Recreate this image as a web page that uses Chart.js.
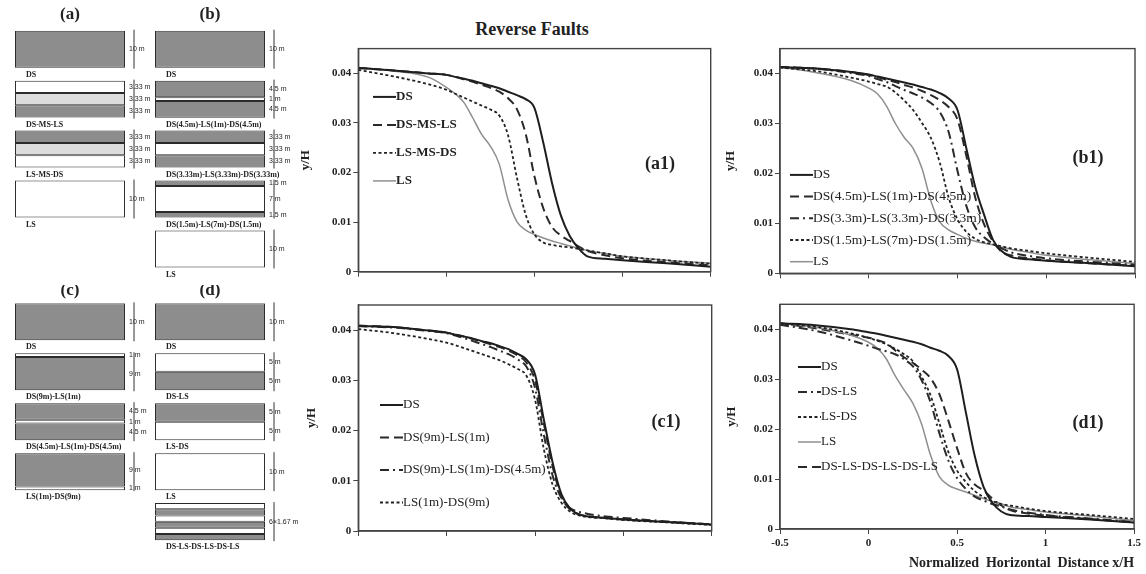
<!DOCTYPE html>
<html lang="en">
<head>
  <meta charset="UTF-8" />
  <title>Reverse Faults</title>
  <script src="https://cdn.jsdelivr.net/npm/chart.js"></script>
  <style>
    body { margin: 0; width: 1146px; height: 574px; background: #fff; position: relative; overflow: hidden; }
    .caixa { position: absolute; }
    #titulo { position: absolute; left: 452px; top: 19px; width: 160px; text-align: center;
              font: bold 18px 'Liberation Serif', serif; line-height: 20px; color: #222; }
  </style>
</head>
<body>
  <div class="caixa" style="left:0;top:0;width:302px;height:285px"><canvas id="perfisAB"></canvas></div>
  <div class="caixa" style="left:0;top:285px;width:302px;height:289px"><canvas id="perfisCD"></canvas></div>
  <div id="titulo">Reverse Faults</div>
  <div class="caixa" style="left:294px;top:40px;width:424px;height:250px"><canvas id="g_a1"></canvas></div>
  <div class="caixa" style="left:719px;top:40px;width:425px;height:250px"><canvas id="g_b1"></canvas></div>
  <div class="caixa" style="left:300px;top:295px;width:420px;height:250px"><canvas id="g_c1"></canvas></div>
  <div class="caixa" style="left:720px;top:295px;width:424px;height:279px"><canvas id="g_d1"></canvas></div>

  <script>
    // ---- perfis de solo (esquemas) ----
    const colunasAB = ['(a)', '(b)'];
    const colunasCD = ['(c)', '(d)'];

    const perfisA = ['DS', 'DS-MS-LS', 'LS-MS-DS', 'LS'];
    const camadasA = [['DS'], ['LS', 'MS', 'DS'], ['DS', 'MS', 'LS'], ['LS']];
    const espessurasA = [[10], [3.33, 3.33, 3.33], [3.33, 3.33, 3.33], [10]];
    const cotasA = [['10 m'], ['3.33 m', '3.33 m', '3.33 m'], ['3.33 m', '3.33 m', '3.33 m'], ['10 m']];

    const perfisB = ['DS', 'DS(4.5m)-LS(1m)-DS(4.5m)', 'DS(3.33m)-LS(3.33m)-DS(3.33m)', 'DS(1.5m)-LS(7m)-DS(1.5m)', 'LS'];
    const camadasB = [['DS'], ['DS', 'LS', 'DS'], ['DS', 'LS', 'DS'], ['DS', 'LS', 'DS'], ['LS']];
    const espessurasB = [[10], [4.5, 1, 4.5], [3.33, 3.33, 3.33], [1.5, 7, 1.5], [10]];
    const cotasB = [['10 m'], ['4.5 m', '1 m', '4.5 m'], ['3.33 m', '3.33 m', '3.33 m'], ['1.5 m', '7 m', '1.5 m'], ['10 m']];

    const perfisC = ['DS', 'DS(9m)-LS(1m)', 'DS(4.5m)-LS(1m)-DS(4.5m)', 'LS(1m)-DS(9m)'];
    const camadasC = [['DS'], ['LS', 'DS'], ['DS', 'LS', 'DS'], ['DS', 'LS']];
    const espessurasC = [[10], [1, 9], [4.5, 1, 4.5], [9, 1]];
    const cotasC = [['10 m'], ['1 m', '9 m'], ['4.5 m', '1 m', '4.5 m'], ['9 m', '1 m']];

    const perfisD = ['DS', 'DS-LS', 'LS-DS', 'LS', 'DS-LS-DS-LS-DS-LS'];
    const camadasD = [['DS'], ['LS', 'DS'], ['DS', 'LS'], ['LS'], ['LS', 'DS', 'LS', 'DS', 'LS', 'DS']];
    const espessurasD = [[10], [5, 5], [5, 5], [10], [1.67, 1.67, 1.67, 1.67, 1.67, 1.67]];
    const cotasD = [['10 m'], ['5 m', '5 m'], ['5 m', '5 m'], ['10 m'], ['6\u00d71.67 m']];

    // ---- curvas y/H x x/H ----
    const xNorm = [-0.5, -0.3, -0.1, 0, 0.05, 0.1, 0.15, 0.2, 0.25, 0.3, 0.35, 0.4, 0.45, 0.5, 0.55, 0.6, 0.65, 0.7, 0.75, 0.8, 0.9, 1.0, 1.25, 1.5];

    const a1_DS     = [0.0411, 0.0406, 0.0400, 0.0397, 0.0393, 0.0389, 0.0385, 0.0380, 0.0375, 0.0370, 0.0363, 0.0356, 0.0348, 0.0330, 0.0260, 0.0178, 0.0113, 0.0072, 0.0047, 0.0031, 0.0026, 0.0023, 0.0017, 0.0010];
    const a1_DSMSLS = [0.0411, 0.0406, 0.0400, 0.0397, 0.0393, 0.0388, 0.0383, 0.0377, 0.0371, 0.0363, 0.0350, 0.0328, 0.0278, 0.0192, 0.0128, 0.0090, 0.0073, 0.0062, 0.0051, 0.0042, 0.0033, 0.0027, 0.0019, 0.0013];
    const a1_LSMSDS = [0.0407, 0.0394, 0.0378, 0.0367, 0.0359, 0.0351, 0.0343, 0.0335, 0.0327, 0.0315, 0.0275, 0.0190, 0.0115, 0.0075, 0.0059, 0.0054, 0.0051, 0.0049, 0.0046, 0.0043, 0.0037, 0.0031, 0.0023, 0.0016];
    const a1_LS     = [0.0412, 0.0405, 0.0392, 0.0372, 0.0359, 0.0341, 0.0310, 0.0277, 0.0253, 0.0217, 0.0145, 0.0101, 0.0084, 0.0075, 0.0068, 0.0062, 0.0057, 0.0052, 0.0047, 0.0043, 0.0037, 0.0031, 0.0023, 0.0017];

    const b1_DS  = [0.0413, 0.0410, 0.0403, 0.0398, 0.0394, 0.0390, 0.0386, 0.0382, 0.0378, 0.0373, 0.0368, 0.0361, 0.0350, 0.0327, 0.0250, 0.0173, 0.0117, 0.0067, 0.0044, 0.0033, 0.0028, 0.0025, 0.0020, 0.0014];
    const b1_D45 = [0.0413, 0.0410, 0.0403, 0.0397, 0.0393, 0.0388, 0.0383, 0.0377, 0.0372, 0.0365, 0.0357, 0.0347, 0.0333, 0.0308, 0.0235, 0.0152, 0.0098, 0.0064, 0.0043, 0.0036, 0.0030, 0.0026, 0.0020, 0.0015];
    const b1_D33 = [0.0413, 0.0410, 0.0401, 0.0395, 0.0389, 0.0383, 0.0375, 0.0367, 0.0360, 0.0352, 0.0341, 0.0323, 0.0283, 0.0205, 0.0135, 0.0092, 0.0072, 0.0059, 0.0050, 0.0042, 0.0035, 0.0030, 0.0023, 0.0017];
    const b1_D15 = [0.0412, 0.0405, 0.0392, 0.0384, 0.0379, 0.0374, 0.0362, 0.0346, 0.0327, 0.0301, 0.0271, 0.0222, 0.0152, 0.0108, 0.0083, 0.0069, 0.0062, 0.0058, 0.0054, 0.0050, 0.0045, 0.0040, 0.0031, 0.0023];
    const b1_LS  = [0.0413, 0.0402, 0.0386, 0.0371, 0.0359, 0.0335, 0.0300, 0.0272, 0.0250, 0.0210, 0.0145, 0.0103, 0.0087, 0.0078, 0.0070, 0.0064, 0.0060, 0.0057, 0.0052, 0.0048, 0.0042, 0.0036, 0.0027, 0.0020];

    const c1_DS    = [0.0408, 0.0406, 0.0399, 0.0395, 0.0391, 0.0387, 0.0383, 0.0378, 0.0374, 0.0368, 0.0362, 0.0353, 0.0342, 0.0312, 0.0222, 0.0136, 0.0073, 0.0044, 0.0033, 0.0029, 0.0026, 0.0023, 0.0018, 0.0013];
    const c1_D9L1  = [0.0409, 0.0406, 0.0399, 0.0395, 0.0391, 0.0387, 0.0382, 0.0377, 0.0372, 0.0366, 0.0359, 0.0350, 0.0336, 0.0300, 0.0214, 0.0128, 0.0068, 0.0042, 0.0033, 0.0029, 0.0026, 0.0023, 0.0018, 0.0013];
    const c1_D9L1D = [0.0408, 0.0405, 0.0398, 0.0394, 0.0389, 0.0384, 0.0378, 0.0372, 0.0366, 0.0359, 0.0352, 0.0342, 0.0328, 0.0285, 0.0192, 0.0110, 0.0065, 0.0045, 0.0038, 0.0034, 0.0029, 0.0026, 0.0019, 0.0013];
    const c1_L1D9  = [0.0402, 0.0394, 0.0382, 0.0375, 0.0370, 0.0364, 0.0358, 0.0352, 0.0346, 0.0340, 0.0332, 0.0323, 0.0310, 0.0262, 0.0163, 0.0092, 0.0056, 0.0038, 0.0031, 0.0028, 0.0025, 0.0022, 0.0017, 0.0012];

    const d1_DS   = [0.0412, 0.0408, 0.0400, 0.0394, 0.0391, 0.0387, 0.0383, 0.0379, 0.0375, 0.0370, 0.0363, 0.0357, 0.0347, 0.0320, 0.0233, 0.0146, 0.0084, 0.0052, 0.0035, 0.0028, 0.0026, 0.0024, 0.0019, 0.0013];
    const d1_DSLS = [0.0409, 0.0397, 0.0378, 0.0367, 0.0361, 0.0356, 0.0350, 0.0340, 0.0326, 0.0298, 0.0254, 0.0192, 0.0138, 0.0102, 0.0080, 0.0065, 0.0057, 0.0050, 0.0045, 0.0039, 0.0033, 0.0028, 0.0021, 0.0014];
    const d1_LSDS = [0.0411, 0.0405, 0.0392, 0.0383, 0.0377, 0.0370, 0.0361, 0.0350, 0.0336, 0.0305, 0.0268, 0.0212, 0.0155, 0.0117, 0.0094, 0.0076, 0.0064, 0.0056, 0.0050, 0.0047, 0.0041, 0.0036, 0.0028, 0.0020];
    const d1_LS   = [0.0412, 0.0404, 0.0388, 0.0374, 0.0362, 0.0341, 0.0307, 0.0279, 0.0252, 0.0210, 0.0148, 0.0105, 0.0088, 0.0080, 0.0074, 0.0067, 0.0061, 0.0055, 0.0050, 0.0044, 0.0039, 0.0034, 0.0026, 0.0017];
    const d1_ALT  = [0.0412, 0.0402, 0.0389, 0.0383, 0.0378, 0.0372, 0.0358, 0.0344, 0.0333, 0.0319, 0.0302, 0.0270, 0.0218, 0.0162, 0.0112, 0.0089, 0.0077, 0.0061, 0.0047, 0.0038, 0.0031, 0.0027, 0.0020, 0.0013];

    const SERIF = "'Liberation Serif', 'Times New Roman', serif";
    const corSolo = { DS: '#8d8d8d', MS: '#dcdcdc', LS: '#ffffff' };
    const PASSO = 13.5;   // espaco vertical entre perfis (m)
    const LARG = 0.786;   // fracao da coluna ocupada pelo retangulo

    // estilos de linha
    const cheia = { borderColor: '#1e1e1e', borderWidth: 2, borderDash: [] };
    const tracejada = { borderColor: '#2a2a2a', borderWidth: 2, borderDash: [9, 5] };
    const tracoPonto = { borderColor: '#2a2a2a', borderWidth: 2, borderDash: [9, 4, 2, 4] };
    const pontilhada = { borderColor: '#222', borderWidth: 1.8, borderDash: [3, 2.5] };
    const cinza = { borderColor: '#8f8f8f', borderWidth: 1.5, borderDash: [] };

    function graficoPerfis(id, colunas, perfis, camadas, espessuras, cotas, yMax, padding, recuoTitulo) {
      const datasets = [];
      colunas.forEach((col, c) => {
        perfis[c].forEach((nome, i) => {
          let topo = i * PASSO;
          camadas[c][i].forEach((solo, j) => {
            const base = topo + espessuras[c][i][j];
            datasets.push({
              label: nome + ' ' + solo,
              data: colunas.map((_, k) => k === c ? [topo, base] : null),
              backgroundColor: corSolo[solo],
              borderColor: '#2b2b2b',
              borderWidth: 1,
              borderSkipped: false,
              grouped: false,
              categoryPercentage: LARG,
              barPercentage: 1
            });
            topo = base;
          });
        });
      });

      const anotacoes = {
        id: 'anotacoes',
        afterDatasetsDraw(chart) {
          const { ctx } = chart;
          const xs = chart.scales.x, ys = chart.scales.y;
          const meio = xs.width / colunas.length * LARG / 2;
          ctx.save();
          ctx.fillStyle = '#222';
          ctx.strokeStyle = '#333';
          ctx.lineWidth = 1;
          colunas.forEach((col, c) => {
            const cx = xs.getPixelForValue(c);
            const esq = cx - meio, dir = cx + meio;
            ctx.font = 'bold 17px ' + SERIF;
            ctx.textAlign = 'center';
            ctx.textBaseline = 'middle';
            ctx.fillText(col, cx, ys.getPixelForValue(0) - recuoTitulo);
            perfis[c].forEach((nome, i) => {
              const topo = i * PASSO;
              const total = espessuras[c][i].reduce((a, b) => a + b, 0);
              const yT = ys.getPixelForValue(topo), yB = ys.getPixelForValue(topo + total);
              ctx.font = 'bold 8px ' + SERIF;
              ctx.textAlign = 'left';
              ctx.fillText(nome, esq + 11, yB + 7);
              ctx.beginPath();
              ctx.moveTo(dir + 9, yT - 1);
              ctx.lineTo(dir + 9, yB + 1);
              ctx.stroke();
              ctx.font = "7px 'Liberation Sans', sans-serif";
              if (cotas[c][i].length === camadas[c][i].length) {
                let t = topo;
                espessuras[c][i].forEach((e, j) => {
                  ctx.fillText(cotas[c][i][j], dir + 4, ys.getPixelForValue(t + e / 2));
                  t += e;
                });
              } else {
                ctx.fillText(cotas[c][i][0], dir + 4, ys.getPixelForValue(topo + total / 2));
              }
            });
          });
          ctx.restore();
        }
      };

      new Chart(document.getElementById(id), {
        type: 'bar',
        data: { labels: colunas, datasets },
        options: {
          responsive: true, maintainAspectRatio: false, animation: false,
          layout: { padding },
          plugins: { legend: { display: false }, tooltip: { enabled: false } },
          scales: {
            x: { display: false },
            y: { display: false, min: 0, max: yMax, reverse: true }
          }
        },
        plugins: [anotacoes]
      });
    }

    const moldura = {
      id: 'moldura',
      afterDatasetsDraw(chart) {
        const { ctx, chartArea: a } = chart;
        ctx.save();
        ctx.strokeStyle = '#444';
        ctx.lineWidth = 1.4;
        ctx.strokeRect(a.left, a.top, a.right - a.left, a.bottom - a.top);
        ctx.restore();
      }
    };

    function legendaDentro(px, py, passo, fonte) {
      return {
        id: 'legendaDentro',
        afterDatasetsDraw(chart) {
          const { ctx, chartArea } = chart;
          ctx.save();
          ctx.font = fonte;
          ctx.textBaseline = 'middle';
          ctx.textAlign = 'left';
          chart.data.datasets.forEach((ds, i) => {
            const x = chartArea.left + px, y = chartArea.top + py + i * passo;
            ctx.strokeStyle = ds.borderColor;
            ctx.lineWidth = ds.borderWidth;
            ctx.setLineDash(ds.borderDash || []);
            ctx.beginPath();
            ctx.moveTo(x, y);
            ctx.lineTo(x + 23, y);
            ctx.stroke();
            ctx.fillStyle = '#222';
            ctx.fillText(ds.label, x + 23, y);
          });
          ctx.restore();
        }
      };
    }

    function rotulo(texto, cx, cy) {
      return {
        id: 'rotulo',
        afterDatasetsDraw(chart) {
          const { ctx, chartArea } = chart;
          ctx.save();
          ctx.font = 'bold 18px ' + SERIF;
          ctx.fillStyle = '#222';
          ctx.textAlign = 'center';
          ctx.textBaseline = 'middle';
          ctx.fillText(texto, chartArea.left + cx, chartArea.top + cy);
          ctx.restore();
        }
      };
    }

    function graficoLinhas(id, series, cfg) {
      const fonteTick = { family: SERIF, size: 11, weight: 'bold' };
      new Chart(document.getElementById(id), {
        type: 'line',
        data: {
          datasets: series.map(s => ({
            label: s.label,
            data: xNorm.map((x, i) => ({ x, y: s.y[i] })),
            ...s.estilo,
            pointRadius: 0,
            fill: false,
            cubicInterpolationMode: 'monotone'
          }))
        },
        options: {
          responsive: true, maintainAspectRatio: false, animation: false,
          layout: { padding: cfg.padding },
          plugins: { legend: { display: false }, tooltip: { enabled: false } },
          scales: {
            x: {
              type: 'linear', min: -0.5, max: 1.5,
              ticks: { stepSize: 0.5, display: cfg.comX, font: fonteTick, color: '#222', padding: 3, maxRotation: 0,
                       callback: v => String(Math.round(v * 10) / 10) },
              grid: { drawOnChartArea: false, color: '#444', tickLength: 5 },
              border: { color: '#444', width: 1.4 },
              title: { display: cfg.comX, text: 'Normalized  Horizontal  Distance x/H', align: 'end',
                       font: { family: SERIF, size: 14, weight: 'bold' }, color: '#222', padding: { top: 2, bottom: 2 } },
              afterFit: s => { s.height = cfg.altX; }
            },
            y: {
              min: 0, max: 0.045,
              afterBuildTicks: s => { s.ticks = s.ticks.filter(t => t.value < 0.0445); },
              ticks: { stepSize: 0.01, font: fonteTick, color: '#222', padding: 2,
                       callback: v => v === 0 ? '0' : v.toFixed(2) },
              grid: { drawOnChartArea: false, color: '#444', tickLength: 5 },
              border: { color: '#444', width: 1.4 },
              title: { display: true, text: 'y/H', font: { family: SERIF, size: 13, weight: 'bold' }, color: '#222' },
              afterFit: s => { s.width = cfg.largY; }
            }
          }
        },
        plugins: [moldura, legendaDentro(cfg.leg[0], cfg.leg[1], cfg.leg[2], cfg.leg[3]), rotulo(cfg.rot[0], cfg.rot[1], cfg.rot[2])]
      });
    }

    graficoPerfis('perfisAB', colunasAB, [perfisA, perfisB], [camadasA, camadasB], [espessurasA, espessurasB],
                  [cotasA, cotasB], 68, { top: 30.7, bottom: 2.7, left: 0, right: 22 }, 16);
    graficoPerfis('perfisCD', colunasCD, [perfisC, perfisD], [camadasC, camadasD], [espessurasC, espessurasD],
                  [cotasC, cotasD], 70, { top: 18.3, bottom: 11.7, left: 0, right: 22 }, 12.5);

    graficoLinhas('g_a1', [
      { label: 'DS', y: a1_DS, estilo: cheia },
      { label: 'DS-MS-LS', y: a1_DSMSLS, estilo: tracejada },
      { label: 'LS-MS-DS', y: a1_LSMSDS, estilo: pontilhada },
      { label: 'LS', y: a1_LS, estilo: cinza }
    ], { padding: { top: 6.7, right: 7.3, left: 0, bottom: 0 }, largY: 64.3, altX: 18.3, comX: false,
         leg: [14.7, 48.3, 28, 'bold 13px ' + SERIF], rot: ['(a1)', 301.7, 115.3] });

    graficoLinhas('g_b1', [
      { label: 'DS', y: b1_DS, estilo: cheia },
      { label: 'DS(4.5m)-LS(1m)-DS(4.5m)', y: b1_D45, estilo: tracejada },
      { label: 'DS(3.3m)-LS(3.3m)-DS(3.3m)', y: b1_D33, estilo: tracoPonto },
      { label: 'DS(1.5m)-LS(7m)-DS(1.5m)', y: b1_D15, estilo: pontilhada },
      { label: 'LS', y: b1_LS, estilo: cinza }
    ], { padding: { top: 6.7, right: 9, left: 0, bottom: 0 }, largY: 61, altX: 16.7, comX: false,
         leg: [10, 126.3, 21.7, '13.5px ' + SERIF], rot: ['(b1)', 308, 110] });

    graficoLinhas('g_c1', [
      { label: 'DS', y: c1_DS, estilo: cheia },
      { label: 'DS(9m)-LS(1m)', y: c1_D9L1, estilo: tracejada },
      { label: 'DS(9m)-LS(1m)-DS(4.5m)', y: c1_D9L1D, estilo: tracoPonto },
      { label: 'LS(1m)-DS(9m)', y: c1_L1D9, estilo: pontilhada }
    ], { padding: { top: 10, right: 8.3, left: 0, bottom: 0 }, largY: 58.3, altX: 14, comX: false,
         leg: [21.7, 100, 32.5, '13px ' + SERIF], rot: ['(c1)', 307.7, 117] });

    graficoLinhas('g_d1', [
      { label: 'DS', y: d1_DS, estilo: cheia },
      { label: 'DS-LS', y: d1_DSLS, estilo: tracoPonto },
      { label: 'LS-DS', y: d1_LSDS, estilo: pontilhada },
      { label: 'LS', y: d1_LS, estilo: cinza },
      { label: 'DS-LS-DS-LS-DS-LS', y: d1_ALT, estilo: tracejada }
    ], { padding: { top: 9.3, right: 9.7, left: 0, bottom: 0 }, largY: 60, altX: 45, comX: true,
         leg: [18, 62.7, 25, '13px ' + SERIF], rot: ['(d1)', 308, 118.7] });
  </script>
</body>
</html>
